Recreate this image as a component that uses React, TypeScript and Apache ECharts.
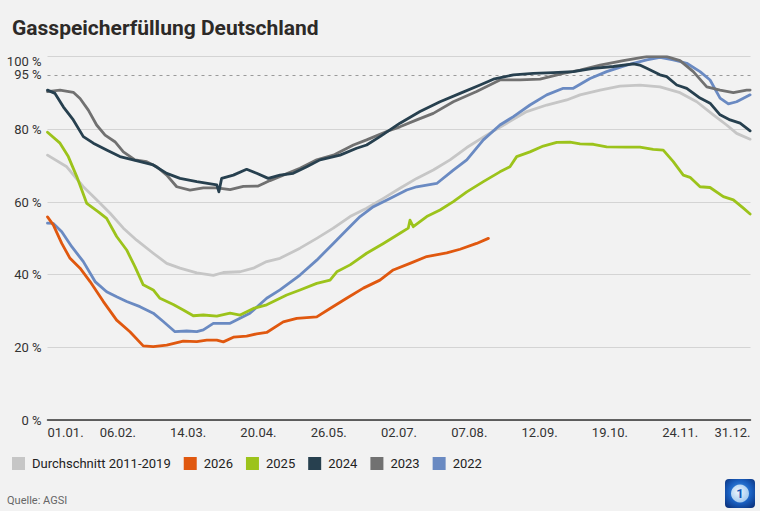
import React, { useEffect, useRef } from "react";
import * as echarts from "echarts";

// x = day of year (0 = 01.01., 365 = 31.12.), y = fill level in %
const xTickLabels = ["01.01.", "06.02.", "14.03.", "20.04.", "26.05.", "02.07.", "07.08.", "12.09.", "19.10.", "24.11.", "31.12."];
const yTickValues = [0, 20, 40, 60, 80, 100];

const seriesNames = ["Durchschnitt 2011-2019", "2026", "2025", "2024", "2023", "2022"];
const seriesColors = ["#c6c6c6", "#e0580f", "#9cc31b", "#27404f", "#717171", "#6a8ac2"];

const avg2011_2019 = [
  [0, 72.9], [10, 69.7], [18.6, 64.2], [25.5, 60.6], [32.5, 56.9], [39.4, 52.8], [46.3, 49.5], [54.9, 45.9],
  [61.9, 43.1], [68.8, 41.8], [77.5, 40.5], [86.1, 39.8], [91.3, 40.6], [100, 40.8], [106.9, 41.8], [113.8, 43.6],
  [120.7, 44.5], [131.1, 47.3], [139.8, 50.0], [148.4, 52.8], [157.1, 56.0], [165.7, 58.3], [174.4, 61.0],
  [183, 63.8], [191.7, 66.5], [200.3, 68.8], [209, 71.6], [217.7, 75.0], [228, 78.4], [238.4, 81.7], [248.8, 84.9],
  [259.2, 86.7], [269.6, 88.1], [276.5, 89.5], [286.9, 90.8], [297.2, 91.9], [307.6, 92.2], [318, 91.7],
  [328.4, 90.1], [337.1, 87.6], [345.7, 84.0], [352.6, 81.2], [357.8, 78.9], [364.8, 77.3],
];

const y2026 = [
  [0, 55.9], [3, 53.7], [7.4, 48.6], [11.7, 44.5], [16.9, 41.8], [22.1, 38.1], [29, 32.6], [35.9, 27.5],
  [42.8, 24.3], [49.7, 20.4], [54.9, 20.2], [61.9, 20.6], [70.5, 21.7], [77.5, 21.6], [82.7, 22.0], [87.9, 22.0],
  [91.3, 21.5], [96.5, 22.8], [103.4, 23.1], [108.6, 23.7], [113.8, 24.1], [122.4, 27.0], [129.4, 28.0],
  [139.8, 28.4], [146.7, 30.7], [155.3, 33.5], [164, 36.3], [172.6, 38.5], [179.5, 41.3], [188.2, 43.1],
  [196.9, 45.0], [207.3, 46.0], [214.2, 47.0], [222.8, 48.6], [228.9, 50.0],
];

const y2025 = [
  [0, 79.2], [6.5, 76.2], [10.8, 72.5], [15.2, 67.0], [20.4, 59.6], [26.4, 57.3], [30.7, 55.5], [35.9, 50.5],
  [41.1, 46.8], [45.4, 42.2], [49.7, 37.2], [54.9, 35.8], [58.4, 33.5], [65.3, 31.8], [70.5, 30.3], [75.7, 28.7],
  [80.9, 28.9], [87.9, 28.6], [94.8, 29.4], [100, 28.9], [106.9, 30.7], [113.8, 31.7], [124.2, 34.4],
  [131.1, 35.8], [139.8, 37.6], [146.7, 38.5], [150.2, 40.8], [157.1, 42.7], [165.7, 45.9], [174.4, 48.6],
  [183, 51.4], [187.3, 52.8], [188.2, 55.0], [189.9, 53.2], [196.9, 56.0], [203.8, 57.8], [210.7, 60.1],
  [217.7, 62.8], [226.3, 65.6], [234.9, 68.3], [240.1, 69.7], [243.6, 72.5], [250.5, 73.8], [257.4, 75.4],
  [264.4, 76.4], [271.3, 76.5], [276.5, 76.0], [283.4, 75.9], [290.3, 75.2], [300.7, 75.1], [307.6, 75.1],
  [314.5, 74.5], [319.7, 74.3], [324.9, 71.1], [330.1, 67.4], [333.6, 66.8], [338.8, 64.2], [344, 64.0],
  [350.9, 61.5], [356.1, 60.6], [361.3, 58.3], [364.8, 56.7],
];

const y2024 = [
  [0, 90.8], [3.9, 89.9], [8.2, 86.2], [13.4, 82.6], [18.6, 78.0], [23.8, 76.2], [30.7, 74.3], [37.6, 72.5],
  [44.5, 71.6], [54.9, 70.2], [61.9, 67.9], [68.8, 66.5], [77.5, 65.6], [87.9, 64.7], [89, 62.8], [90.4, 66.5],
  [96.5, 67.4], [103.4, 69.0], [108.6, 67.9], [114.6, 66.5], [120.7, 67.4], [127.6, 67.9], [134.6, 69.7],
  [141.5, 71.6], [151.9, 72.9], [160.5, 74.8], [165.7, 75.7], [172.6, 78.0], [183, 81.7], [193.4, 84.9],
  [203.8, 87.6], [214.2, 89.9], [224.6, 92.2], [231.5, 93.8], [241.9, 95.0], [252.2, 95.4], [262.6, 95.6],
  [273, 95.9], [283.4, 96.8], [293.8, 97.3], [304.2, 98.0], [307.5, 97.7], [311.1, 96.8], [318, 95.0],
  [321.5, 94.5], [326.7, 92.2], [331.9, 91.3], [338.8, 88.6], [344, 87.2], [349.2, 84.0], [354.4, 82.6],
  [359.6, 81.7], [364.8, 79.6],
];

const y2023 = [
  [0, 90.4], [6.5, 90.8], [13.4, 90.2], [16.9, 88.5], [21.2, 85.3], [25.5, 81.2], [29.9, 78.4], [35, 76.6],
  [39.4, 73.8], [45.4, 71.6], [51.5, 71.1], [56.7, 69.7], [61.9, 67.4], [67.1, 64.2], [74, 63.3], [80.9, 63.9],
  [87.9, 63.9], [94.8, 63.4], [101.7, 64.3], [109.4, 64.4], [115.5, 65.9], [122.4, 67.4], [131.1, 69.3],
  [139.8, 71.6], [148.4, 72.9], [158.8, 75.7], [165.7, 77.1], [176.1, 79.4], [183, 80.7], [191.7, 82.6],
  [200.3, 84.4], [210.7, 87.6], [222.8, 90.4], [234.9, 93.6], [245.3, 93.6], [255.7, 93.8], [267.8, 95.4],
  [276.5, 96.3], [286.9, 97.7], [299, 98.9], [311.1, 100.0], [321.5, 100.0], [328.4, 98.9], [335.3, 95.9],
  [342.3, 91.7], [349.2, 90.8], [356.1, 90.1], [363, 90.8], [364.8, 90.8],
];

const y2022 = [
  [0, 54.2], [3, 54.1], [7.4, 51.8], [12.6, 47.7], [18.6, 43.6], [24.7, 38.1], [30.7, 35.3], [35.9, 33.9],
  [41.1, 32.6], [48, 31.2], [54.9, 29.4], [60.1, 27.1], [66.2, 24.3], [72.3, 24.5], [77.5, 24.3], [80.9, 24.8],
  [86.1, 26.6], [94.8, 26.6], [105.1, 29.4], [113.8, 33.5], [120.7, 35.8], [131.1, 39.9], [139.8, 44.0],
  [148.4, 48.6], [155.3, 52.3], [162.3, 56.0], [169.2, 58.7], [177.8, 61.0], [186.5, 63.3], [191.7, 64.2],
  [202.1, 65.1], [210.7, 68.8], [217.7, 71.6], [226.3, 77.1], [234.9, 81.2], [241.9, 83.5], [250.5, 86.7],
  [259.2, 89.5], [267.8, 91.3], [273, 91.3], [281.7, 94.0], [290.3, 95.9], [300.7, 97.7], [311.1, 99.1],
  [318, 99.8], [324.9, 99.1], [331.9, 98.2], [338.8, 95.9], [344, 93.6], [349.2, 88.6], [353.5, 87.0],
  [357.8, 87.6], [364.8, 89.5],
];

const targetLevel = 95;

const FONT = "Roboto, 'Noto Sans', sans-serif";

export default function App() {
  const ref = useRef<HTMLDivElement>(null);

  useEffect(() => {
    document.body.style.margin = "0";
    const chart = echarts.init(ref.current!, null, { renderer: "svg" });

    const seriesData = [avg2011_2019, y2026, y2025, y2024, y2023, y2022];
    // drawing order: average at the bottom, then older years
    const drawOrder = [0, 5, 4, 3, 2, 1];

    const series: any[] = drawOrder.map((i) => ({
      name: seriesNames[i],
      type: "line",
      data: seriesData[i],
      showSymbol: false,
      symbol: "none",
      smooth: false,
      lineStyle: { width: 2.8, color: seriesColors[i], cap: "round", join: "round" },
      itemStyle: { color: seriesColors[i] },
      z: 3,
      ...(i === 0
        ? {
            markLine: {
              silent: true,
              symbol: "none",
              lineStyle: { type: [3, 4], color: "#9a9a9a", width: 1 },
              label: {
                show: true,
                position: "start",
                formatter: `${targetLevel} %`,
                color: "#333",
                fontSize: 13,
                lineHeight: 13,
                fontFamily: FONT,
                distance: 6,
                padding: [3, 0, 0, 0],
              },
              data: [{ yAxis: targetLevel }],
              z: 1,
            },
          }
        : {}),
    }));

    chart.setOption({
      animation: false,
      backgroundColor: "#f2f2f2",
      title: {
        text: "Gasspeicherfüllung Deutschland",
        left: 7,
        top: 12,
        textStyle: { fontFamily: FONT, fontWeight: "bold", fontSize: 21, color: "#2d2a28" },
      },
      legend: {
        data: seriesNames,
        left: 7,
        top: 452,
        icon: "rect",
        itemWidth: 13,
        itemHeight: 13,
        itemGap: 13,
        textStyle: { fontFamily: FONT, fontSize: 13, color: "#222", padding: [0, 0, 0, 2] },
        selectedMode: false,
      },
      grid: { left: 47.5, right: 9.5, top: 56.7, bottom: 91, containLabel: false },
      xAxis: {
        type: "value",
        min: 0,
        max: 365,
        interval: 36.5,
        axisLine: { show: true, lineStyle: { color: "#333", width: 1.5 } },
        axisTick: { show: false },
        splitLine: { show: false },
        axisLabel: {
          color: "#333",
          fontSize: 13,
          fontFamily: FONT,
          margin: 6,
          alignMinLabel: "left",
          alignMaxLabel: "right",
          formatter: (v: number) => xTickLabels[Math.round(v / 36.5)] ?? "",
        },
      },
      yAxis: {
        type: "value",
        min: yTickValues[0],
        max: yTickValues[yTickValues.length - 1],
        interval: 20,
        axisLine: { show: false },
        axisTick: { show: false },
        splitLine: { show: true, lineStyle: { color: "#d4d4d4", width: 1 } },
        axisLabel: {
          color: "#333",
          fontSize: 13,
          lineHeight: 13,
          fontFamily: FONT,
          margin: 6,
          formatter: (v: number) => (v === 100 ? `{top|${v} %}` : `${v} %`),
          rich: {
            top: { color: "#333", fontSize: 13, lineHeight: 13, fontFamily: FONT, padding: [9, 0, 0, 0] },
          },
        },
      },
      graphic: [
        {
          type: "text",
          left: 7,
          top: 495,
          style: { text: "Quelle: AGSI", fill: "#666", fontSize: 11, fontFamily: FONT },
        },
        {
          type: "group",
          left: 725,
          top: 479,
          children: [
            {
              type: "rect",
              shape: { x: 0, y: 0, width: 30, height: 29, r: 4 },
              style: {
                fill: new echarts.graphic.RadialGradient(0.5, 0.45, 0.7, [
                  { offset: 0, color: "#4aa0ee" },
                  { offset: 0.55, color: "#1a5fc0" },
                  { offset: 1, color: "#0a2f78" },
                ]),
              },
            },
            {
              type: "circle",
              shape: { cx: 15, cy: 14.5, r: 9 },
              style: {
                fill: new echarts.graphic.RadialGradient(0.4, 0.4, 0.8, [
                  { offset: 0, color: "#ffffff" },
                  { offset: 1, color: "#9cc8f0" },
                ]),
                opacity: 0.9,
              },
            },
            {
              type: "text",
              style: {
                text: "1",
                x: 15,
                y: 14.5,
                align: "center",
                verticalAlign: "middle",
                fill: "#1457b8",
                fontSize: 13,
                fontWeight: "bold",
                fontFamily: FONT,
              },
            },
          ],
        },
      ],
      series,
    });

    return () => chart.dispose();
  }, []);

  return (
    <div
      ref={ref}
      style={{ position: "fixed", left: 0, top: 0, width: 760, height: 511 }}
    />
  );
}
